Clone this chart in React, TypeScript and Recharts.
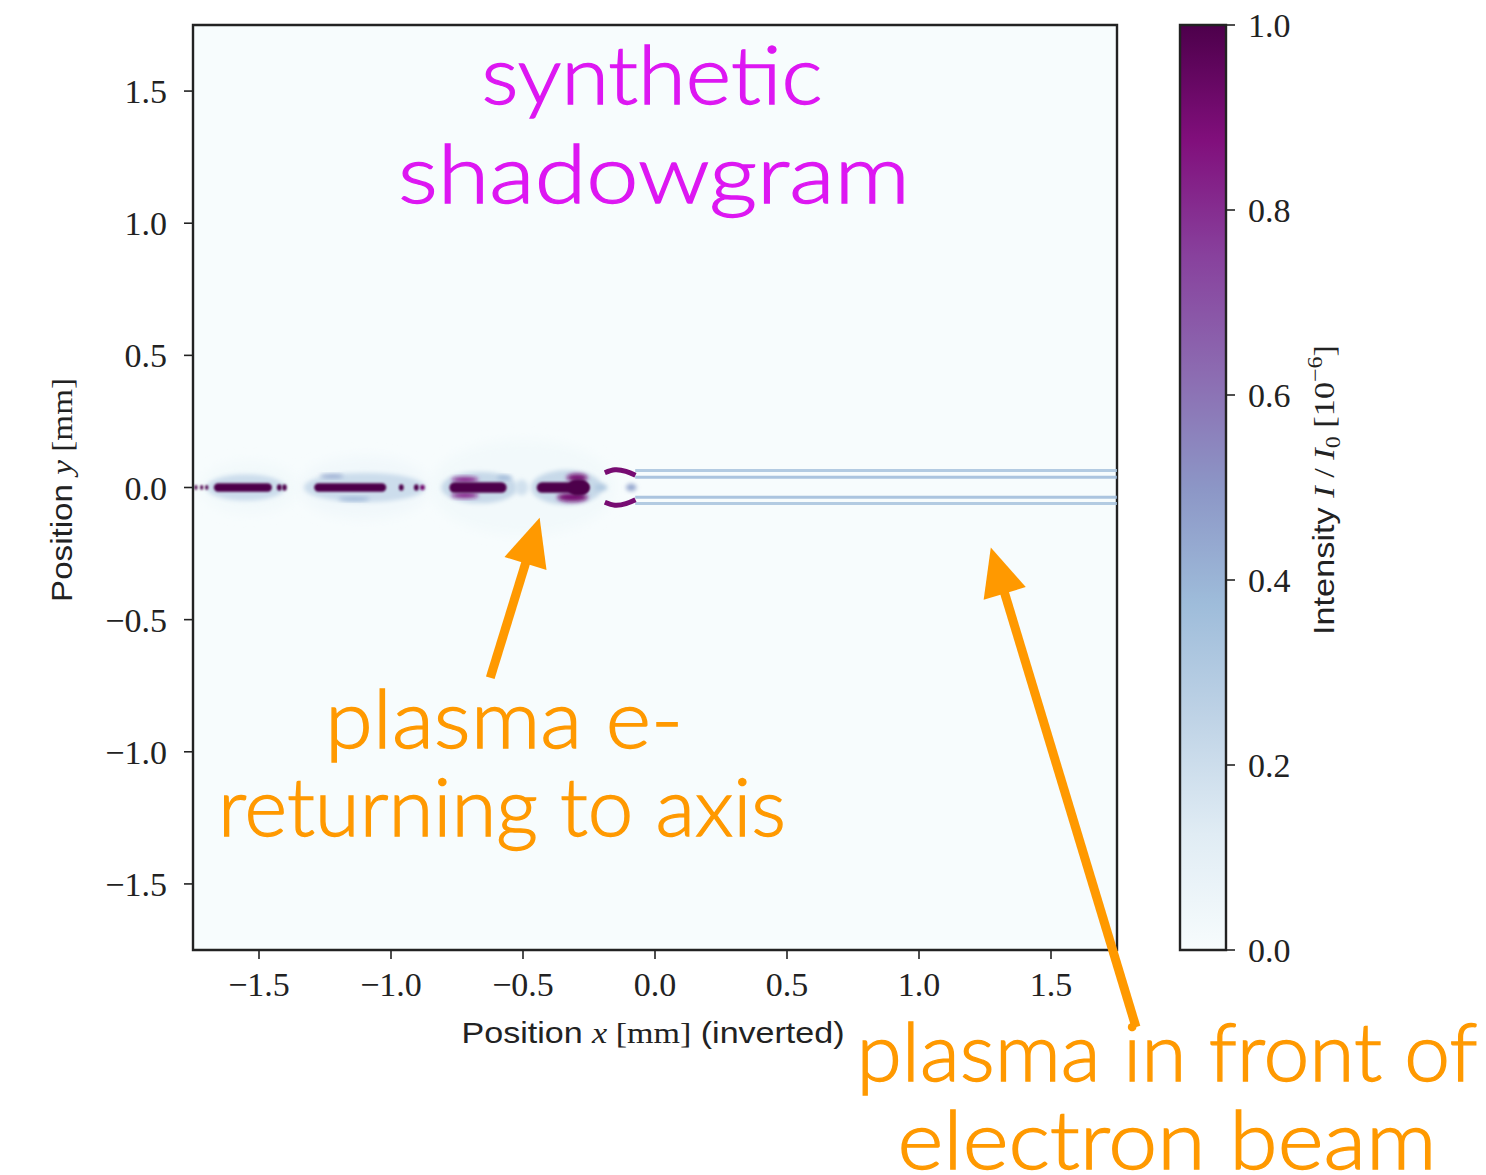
import React from 'react';
import {
  ComposedChart,
  BarChart,
  Bar,
  Line,
  XAxis,
  YAxis,
  ReferenceArea,
  ReferenceLine,
} from 'recharts';

// ---- colormap (BuPu) ----
const BUPU = ['#f7fcfd', '#e0ecf4', '#bfd3e6', '#9ebcda', '#8c96c6', '#8c6bb1', '#88419d', '#810f7c', '#4d004b'];

// ---- axes ----
const X_DOMAIN: [number, number] = [-1.75, 1.75];
const Y_DOMAIN: [number, number] = [-1.75, 1.75];
const xTicks = [-1.5, -1.0, -0.5, 0.0, 0.5, 1.0, 1.5];
const yTicks = [-1.5, -1.0, -0.5, 0.0, 0.5, 1.0, 1.5];
const cbTicks = [0, 0.2, 0.4, 0.6, 0.8, 1.0];

// ---- shadowgram structures: [x0, x1, y0, y1, intensity] in mm / 1e-6 ----
const haze = [
  [-1.72, -1.35, -0.1, 0.1, 0.025],
  [-1.35, -0.85, -0.12, 0.12, 0.03],
  [-0.85, -0.15, -0.18, 0.18, 0.025],
];
const glows = [
  [-1.7, -1.4, -0.05, 0.05, 0.2],
  [-1.33, -0.87, -0.056, 0.056, 0.2],
  [-0.81, -0.52, -0.06, 0.06, 0.22],
  [-0.53, -0.48, -0.03, 0.03, 0.18],
  [-0.47, -0.2, -0.066, 0.066, 0.22],
  [-0.23, -0.18, -0.014, 0.014, 0.3],
  [-0.11, -0.07, -0.014, 0.014, 0.45],
];
const fringes = [
  [-1.27, -1.18, 0.036, 0.05, 0.45],
  [-1.2, -1.08, -0.05, -0.036, 0.4],
  [-0.77, -0.67, 0.02, 0.04, 0.85],
  [-0.77, -0.67, -0.04, -0.02, 0.85],
  [-0.6, -0.54, 0.03, 0.045, 0.4],
  [-0.335, -0.255, 0.022, 0.052, 0.9],
  [-0.37, -0.255, -0.054, -0.02, 0.9],
];
const cores = [
  [-1.745, -1.733, -0.009, 0.009, 1],
  [-1.723, -1.711, -0.009, 0.009, 1],
  [-1.704, -1.692, -0.009, 0.009, 1],
  [-1.671, -1.451, -0.016, 0.016, 1],
  [-1.432, -1.414, -0.012, 0.012, 1],
  [-1.412, -1.395, -0.012, 0.012, 1],
  [-1.291, -1.018, -0.016, 0.016, 1],
  [-0.97, -0.952, -0.012, 0.012, 1],
  [-0.913, -0.895, -0.012, 0.012, 1],
  [-0.89, -0.872, -0.01, 0.01, 0.9],
  [-0.779, -0.562, -0.02, 0.02, 1],
  [-0.448, -0.247, -0.02, 0.02, 1],
  [-0.33, -0.25, -0.03, 0.03, 1],
];

// ---- streaks ahead of the beam (y in mm) ----
const streakStart = -0.075;
const streakEnd = 1.75;
const streakY = [0.064, 0.039, -0.037, -0.061];
const streakLevel = [0.34, 0.38, 0.38, 0.34];

// ---- curved fronts around x ≈ -0.15 mm ----
const upperArc = [
  { x: -0.19, y: 0.056 },
  { x: -0.152, y: 0.067 },
  { x: -0.11, y: 0.061 },
  { x: -0.074, y: 0.046 },
];
const lowerArc = [
  { x: -0.19, y: -0.056 },
  { x: -0.152, y: -0.067 },
  { x: -0.11, y: -0.061 },
  { x: -0.074, y: -0.046 },
];

// ---- annotation arrows (tail → tip, mm) ----
const arrowReturning = [{ x: -0.624, y: -0.72 }, { x: -0.437, y: -0.114 }];
const arrowFront = [{ x: 1.822, y: -2.042 }, { x: 1.272, y: -0.227 }];

const colorbarData = [{ k: 'I', v: 1 }];

const ORANGE = '#FF9900';
const MAGENTA = '#DD17F2';
const SERIF = '"Liberation Serif", "DejaVu Serif", serif';
const SANS = '"Liberation Sans", "DejaVu Sans", sans-serif';
const ANNOT = 'Lato, "Open Sans", sans-serif';

function hexToRgb(h: string) {
  return [parseInt(h.slice(1, 3), 16), parseInt(h.slice(3, 5), 16), parseInt(h.slice(5, 7), 16)];
}

function cmap(v: number) {
  const t = Math.max(0, Math.min(1, v)) * (BUPU.length - 1);
  const i = Math.min(BUPU.length - 2, Math.floor(t));
  const f = t - i;
  const a = hexToRgb(BUPU[i]);
  const b = hexToRgb(BUPU[i + 1]);
  const c = a.map((av, k) => Math.round(av + (b[k] - av) * f));
  return `rgb(${c[0]},${c[1]},${c[2]})`;
}

const fmt = (v: number) => (v < 0 ? '\u2212' : '') + Math.abs(v).toFixed(1);

const ellipseShape = (blur: string) => (p: any) => {
  const { x, y, width, height, fill } = p;
  if (width == null || height == null) return <g />;
  return (
    <ellipse
      cx={x + width / 2}
      cy={y + height / 2}
      rx={Math.abs(width) / 2}
      ry={Math.abs(height) / 2}
      fill={fill}
      filter={blur}
    />
  );
};

const capsuleShape = (blur: string) => (p: any) => {
  const { x, y, width, height, fill } = p;
  if (width == null || height == null) return <g />;
  const h = Math.abs(height);
  return (
    <rect
      x={Math.min(x, x + width)}
      y={Math.min(y, y + height)}
      width={Math.abs(width)}
      height={h}
      rx={h / 2}
      ry={h / 2}
      fill={fill}
      filter={blur}
    />
  );
};

const arrowShape = (p: any) => {
  const { x1, y1, x2, y2 } = p;
  const dx = x2 - x1;
  const dy = y2 - y1;
  const len = Math.sqrt(dx * dx + dy * dy);
  const ux = dx / len;
  const uy = dy / len;
  const head = 48;
  const half = 22;
  const bx = x2 - ux * head;
  const by = y2 - uy * head;
  const sx = x2 - ux * (head - 6);
  const sy = y2 - uy * (head - 6);
  return (
    <g>
      <line x1={x1} y1={y1} x2={sx} y2={sy} stroke={ORANGE} strokeWidth={9} />
      <polygon
        points={`${x2},${y2} ${bx - uy * half},${by + ux * half} ${bx + uy * half},${by - ux * half}`}
        fill={ORANGE}
      />
    </g>
  );
};

function renderBlobs(list: number[][], shape: (p: any) => React.ReactElement, prefix: string) {
  return list.map((b, i) => (
    <ReferenceArea
      key={`${prefix}-${i}`}
      x1={b[0]}
      x2={b[1]}
      y1={b[2]}
      y2={b[3]}
      fill={cmap(b[4])}
      fillOpacity={1}
      stroke="none"
      ifOverflow="hidden"
      shape={shape}
    />
  ));
}

const annot = (color: string) => ({
  fontFamily: ANNOT,
  fontWeight: 300,
  fontSize: 80,
  fill: color,
  stroke: color,
  strokeWidth: 1.3,
  textAnchor: 'middle' as const,
  lengthAdjust: 'spacingAndGlyphs' as const,
});

export default function App() {
  return (
    <div style={{ position: 'absolute', left: 0, top: 0, width: 1486, height: 1175, overflow: 'hidden', background: '#fff' }}>
      <svg width={0} height={0} style={{ position: 'absolute' }}>
        <defs>
          <filter id="softWide" x="-50%" y="-50%" width="200%" height="200%">
            <feGaussianBlur stdDeviation="6" />
          </filter>
          <filter id="soft" x="-50%" y="-50%" width="200%" height="200%">
            <feGaussianBlur stdDeviation="2" />
          </filter>
          <filter id="softCore" x="-50%" y="-50%" width="200%" height="200%">
            <feGaussianBlur stdDeviation="0.9" />
          </filter>
          <linearGradient id="bupuGrad" x1="0" y1="1" x2="0" y2="0">
            {BUPU.map((c, i) => (
              <stop key={i} offset={`${(i / (BUPU.length - 1)) * 100}%`} stopColor={c} />
            ))}
          </linearGradient>
        </defs>
      </svg>

      {/* main image panel */}
      <div style={{ position: 'absolute', left: 0, top: 0 }}>
        <ComposedChart width={1486} height={1175} margin={{ top: 25, right: 369, bottom: 0, left: 0 }}>
          <XAxis
            type="number"
            dataKey="x"
            domain={X_DOMAIN}
            ticks={xTicks}
            allowDataOverflow
            height={225}
            tickFormatter={fmt}
            tickSize={9}
            tickMargin={13}
            axisLine={false}
            tickLine={{ stroke: '#222', strokeWidth: 1.6 }}
            tick={{ fill: '#222', fontFamily: SERIF, fontSize: 34 }}
          />
          <YAxis
            type="number"
            dataKey="y"
            domain={Y_DOMAIN}
            ticks={yTicks}
            allowDataOverflow
            width={193}
            tickFormatter={fmt}
            tickSize={9}
            tickMargin={17}
            axisLine={false}
            tickLine={{ stroke: '#222', strokeWidth: 1.6 }}
            tick={{ fill: '#222', fontFamily: SERIF, fontSize: 34 }}
          />
          <ReferenceArea x1={-1.75} x2={1.75} y1={-1.75} y2={1.75} fill={BUPU[0]} fillOpacity={1} stroke="none" />
          {renderBlobs(haze, ellipseShape('url(#softWide)'), 'haze')}
          {renderBlobs(glows, ellipseShape('url(#soft)'), 'glow')}
          {streakY.map((y, i) => (
            <Line
              key={`streak-${i}`}
              data={[
                { x: streakStart, y },
                { x: streakEnd, y },
              ]}
              dataKey="y"
              type="linear"
              stroke={cmap(streakLevel[i])}
              strokeWidth={3}
              strokeOpacity={0.85}
              dot={false}
              isAnimationActive={false}
            />
          ))}
          {renderBlobs(fringes, ellipseShape('url(#soft)'), 'fringe')}
          {renderBlobs(cores, capsuleShape('url(#softCore)'), 'core')}
          <Line data={upperArc} dataKey="y" type="natural" stroke={cmap(0.9)} strokeWidth={5} dot={false} isAnimationActive={false} />
          <Line data={lowerArc} dataKey="y" type="natural" stroke={cmap(0.9)} strokeWidth={5} dot={false} isAnimationActive={false} />
          <ReferenceArea x1={-1.75} x2={1.75} y1={-1.75} y2={1.75} fill="none" stroke="#222" strokeWidth={2.4} />
          <ReferenceLine segment={arrowReturning} ifOverflow="visible" shape={arrowShape} />
          <ReferenceLine segment={arrowFront} ifOverflow="visible" shape={arrowShape} />
        </ComposedChart>
      </div>

      {/* colour bar */}
      <div style={{ position: 'absolute', left: 1170, top: 0 }}>
        <BarChart width={316} height={1000} data={colorbarData} margin={{ top: 25, right: 0, bottom: 50, left: 10 }} barCategoryGap={0}>
          <XAxis dataKey="k" hide />
          <YAxis
            orientation="right"
            domain={[0, 1]}
            ticks={cbTicks}
            width={260}
            tickFormatter={(v: number) => v.toFixed(1)}
            tickSize={9}
            tickMargin={13}
            axisLine={false}
            tickLine={{ stroke: '#222', strokeWidth: 1.6 }}
            tick={{ fill: '#222', fontFamily: SERIF, fontSize: 34 }}
          />
          <Bar dataKey="v" fill="url(#bupuGrad)" stroke="#222" strokeWidth={2.4} isAnimationActive={false} />
        </BarChart>
      </div>

      {/* titles, axis labels and annotations */}
      <svg width={1486} height={1175} style={{ position: 'absolute', left: 0, top: 0, pointerEvents: 'none' }}>
        <text x={653} y={1043} textAnchor="middle" fontSize={30} fill="#222" textLength={383} lengthAdjust="spacingAndGlyphs">
          <tspan fontFamily={SANS}>Position </tspan>
          <tspan fontFamily={SERIF} fontStyle="italic">x</tspan>
          <tspan fontFamily={SERIF}> [mm]</tspan>
          <tspan fontFamily={SANS}> (inverted)</tspan>
        </text>
        <text x={72} y={490} textAnchor="middle" fontSize={30} fill="#222" transform="rotate(-90 72 490)" textLength={224} lengthAdjust="spacingAndGlyphs">
          <tspan fontFamily={SANS}>Position </tspan>
          <tspan fontFamily={SERIF} fontStyle="italic">y</tspan>
          <tspan fontFamily={SERIF}> [mm]</tspan>
        </text>
        <text x={1334} y={490} textAnchor="middle" fontSize={30} fill="#222" transform="rotate(-90 1334 490)" textLength={290} lengthAdjust="spacingAndGlyphs">
          <tspan fontFamily={SANS}>Intensity </tspan>
          <tspan fontFamily={SERIF} fontStyle="italic">I</tspan>
          <tspan fontFamily={SERIF}> / </tspan>
          <tspan fontFamily={SERIF} fontStyle="italic">I</tspan>
          <tspan fontFamily={SERIF} fontSize={21} dy={6}>0</tspan>
          <tspan fontFamily={SERIF} dy={-6}> [10</tspan>
          <tspan fontFamily={SERIF} fontSize={21} dy={-12}>{'\u22126'}</tspan>
          <tspan fontFamily={SERIF} dy={12}>]</tspan>
        </text>

        <text x={652} y={104} {...annot(MAGENTA)} textLength={341}>synthetic</text>
        <text x={654} y={203} {...annot(MAGENTA)} textLength={512}>shadowgram</text>

        <text x={504} y={748} {...annot(ORANGE)} textLength={358}>plasma e-</text>
        <text x={502} y={836} {...annot(ORANGE)} textLength={568}>returning to axis</text>
        <text x={1167} y={1081} {...annot(ORANGE)} textLength={621}>plasma in front of</text>
        <text x={1167} y={1169} {...annot(ORANGE)} textLength={539}>electron beam</text>
      </svg>
    </div>
  );
}
